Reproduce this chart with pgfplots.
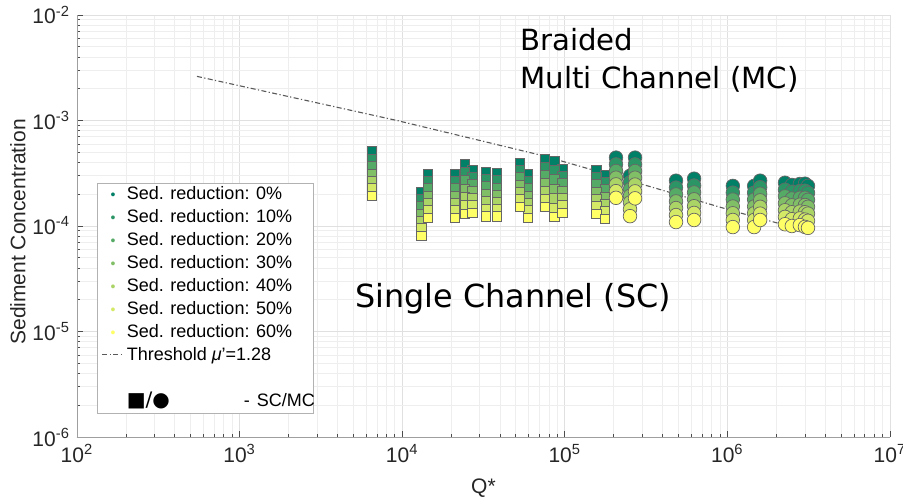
\documentclass[border=0pt]{standalone}
\usepackage{fontspec}
\setmainfont{Liberation Sans}
\newfontfamily\djv{DejaVu Sans}
\usepackage{pgfplots}
\usepackage{pgfplotstable}
\pgfplotsset{compat=1.18}

% MATLAB summer colormap, 7 levels
\definecolor{c0}{rgb}{0.000,0.500,0.400}
\definecolor{c1}{rgb}{0.167,0.583,0.400}
\definecolor{c2}{rgb}{0.333,0.667,0.400}
\definecolor{c3}{rgb}{0.500,0.750,0.400}
\definecolor{c4}{rgb}{0.667,0.833,0.400}
\definecolor{c5}{rgb}{0.833,0.917,0.400}
\definecolor{c6}{rgb}{1.000,1.000,0.400}

% single channel (squares)
\pgfplotstableread{
Q       r0      r10     r20     r30     r40     r50     r60
6520    5.07e-4 4.32e-4 3.67e-4 3.13e-4 2.67e-4 2.27e-4 1.93e-4
13060   2.11e-4 1.80e-4 1.53e-4 1.30e-4 1.11e-4 9.44e-5 8.04e-5
14420   3.13e-4 2.67e-4 2.27e-4 1.93e-4 1.65e-4 1.40e-4 1.19e-4
21100   3.13e-4 2.67e-4 2.27e-4 1.93e-4 1.65e-4 1.40e-4 1.19e-4
24300   3.89e-4 3.24e-4 2.70e-4 2.25e-4 1.88e-4 1.56e-4 1.30e-4
26900   3.41e-4 2.92e-4 2.49e-4 2.13e-4 1.82e-4 1.56e-4 1.33e-4
32700   3.27e-4 2.78e-4 2.37e-4 2.02e-4 1.72e-4 1.46e-4 1.24e-4
38300   3.16e-4 2.70e-4 2.30e-4 1.96e-4 1.67e-4 1.43e-4 1.24e-4
53000   3.98e-4 3.39e-4 2.89e-4 2.46e-4 2.09e-4 1.78e-4 1.52e-4
59400   3.13e-4 2.67e-4 2.27e-4 1.93e-4 1.65e-4 1.40e-4 1.19e-4
75500   4.26e-4 3.58e-4 3.02e-4 2.54e-4 2.14e-4 1.80e-4 1.52e-4
85900   4.16e-4 3.39e-4 2.76e-4 2.25e-4 1.83e-4 1.49e-4 1.22e-4
96200   3.49e-4 2.97e-4 2.53e-4 2.15e-4 1.84e-4 1.56e-4 1.33e-4
155700  3.41e-4 2.91e-4 2.48e-4 2.11e-4 1.79e-4 1.53e-4 1.30e-4
176500  3.06e-4 2.61e-4 2.22e-4 1.89e-4 1.61e-4 1.37e-4 1.17e-4
}\scdata

% multi channel (circles)
\pgfplotstableread{
Q       r0      r10     r20     r30     r40     r50     r60
206500  4.45e-4 3.84e-4 3.32e-4 2.87e-4 2.48e-4 2.14e-4 1.85e-4
251800  2.99e-4 2.59e-4 2.23e-4 1.93e-4 1.67e-4 1.44e-4 1.24e-4
270400  4.45e-4 3.84e-4 3.32e-4 2.87e-4 2.47e-4 2.13e-4 1.83e-4
483000  2.69e-4 2.31e-4 1.99e-4 1.71e-4 1.48e-4 1.27e-4 1.09e-4
624000  2.81e-4 2.42e-4 2.08e-4 1.79e-4 1.54e-4 1.33e-4 1.14e-4
1080000 2.40e-4 2.07e-4 1.78e-4 1.53e-4 1.32e-4 1.14e-4 9.77e-5
1460000 2.40e-4 2.07e-4 1.78e-4 1.53e-4 1.32e-4 1.14e-4 9.77e-5
1590000 2.69e-4 2.33e-4 2.02e-4 1.75e-4 1.52e-4 1.31e-4 1.14e-4
2260000 2.57e-4 2.21e-4 1.91e-4 1.64e-4 1.41e-4 1.22e-4 1.04e-4
2490000 2.45e-4 2.11e-4 1.82e-4 1.57e-4 1.35e-4 1.16e-4 1.00e-4
2790000 2.50e-4 2.15e-4 1.85e-4 1.59e-4 1.37e-4 1.18e-4 1.02e-4
3000000 2.52e-4 2.16e-4 1.85e-4 1.58e-4 1.35e-4 1.15e-4 9.80e-5
3130000 2.40e-4 2.06e-4 1.77e-4 1.52e-4 1.31e-4 1.12e-4 9.60e-5
}\mcdata

\pgfplotsset{
  scsq/.style={only marks, mark=square*, mark size=2.4pt,
    mark options={fill=#1, draw=black!60, line width=0.35pt}},
  mccirc/.style={only marks, mark=*, mark size=3.4pt,
    mark options={fill=#1, draw=black!60, line width=0.35pt}},
}
% legend samples (text only)
\newcommand{\lgdot}[1]{\textcolor{#1}{\fontsize{7}{7}\selectfont •}}
\newcommand{\lgdash}{\textcolor{black!65}{\rule[2.6pt]{2.5pt}{0.5pt}\hspace{1.2pt}%
  \rule[2.6pt]{0.6pt}{0.5pt}\hspace{1.2pt}\rule[2.6pt]{2.5pt}{0.5pt}\hspace{1.2pt}%
  \rule[2.6pt]{0.6pt}{0.5pt}\hspace{0.9pt}}}

\begin{document}
\begin{tikzpicture}
\begin{axis}[
  scale only axis, width=406.5pt, height=211pt,
  xmode=log, ymode=log,
  xmin=1e2, xmax=1e7, ymin=1e-6, ymax=1e-2,
  axis lines*=left, axis line style={-, draw=gray!75},
  tick align=inside, tick pos=left,
  major tick length=3pt, minor tick length=1.6pt,
  tick style={gray!60!black, line width=0.4pt},
  grid=both, major grid style={gray!24}, minor grid style={gray!13},
  log number format basis/.code 2 args={10\textsuperscript{\pgfmathparse{int(#2)}\pgfmathresult}},
  ticklabel style={font=\fontsize{10.5}{12}\selectfont, text=black!85},
  xlabel={Q*}, ylabel={Sediment Concentration},
  label style={font=\fontsize{10.5}{12}\selectfont, text=black!85},
  xlabel style={at={(axis description cs:0.5,-0.121)}, anchor=center},
  ylabel style={at={(axis description cs:-0.0726,0.486)}, anchor=center},
]
\coordinate (bbsw) at (rel axis cs:-0.0947,-0.1517);
\coordinate (bbne) at (rel axis cs:1.016,1.0355);

\addplot[scsq=c0] table[x=Q, y=r0] {\scdata};
\addplot[mccirc=c0] table[x=Q, y=r0] {\mcdata};
\addplot[scsq=c1] table[x=Q, y=r10] {\scdata};
\addplot[mccirc=c1] table[x=Q, y=r10] {\mcdata};
\addplot[scsq=c2] table[x=Q, y=r20] {\scdata};
\addplot[mccirc=c2] table[x=Q, y=r20] {\mcdata};
\addplot[scsq=c3] table[x=Q, y=r30] {\scdata};
\addplot[mccirc=c3] table[x=Q, y=r30] {\mcdata};
\addplot[scsq=c4] table[x=Q, y=r40] {\scdata};
\addplot[mccirc=c4] table[x=Q, y=r40] {\mcdata};
\addplot[scsq=c5] table[x=Q, y=r50] {\scdata};
\addplot[mccirc=c5] table[x=Q, y=r50] {\mcdata};
\addplot[scsq=c6] table[x=Q, y=r60] {\scdata};
\addplot[mccirc=c6] table[x=Q, y=r60] {\mcdata};

% threshold mu' = 1.28
\addplot[black!65, line width=0.55pt, dash pattern=on 2.5pt off 1.2pt on 0.6pt off 1.2pt]
  coordinates {(547,2.62e-3) (9290,1.0e-3) (73400,4.64e-4) (218000,2.87e-4)
               (1080000,1.39e-4) (3220000,8.8e-5)};

\node[anchor=base west, inner sep=0pt, font=\djv\fontsize{14.6}{16}\selectfont]
  at (axis cs:53030,4.64e-3) {Braided};
\node[anchor=base west, inner sep=0pt, font=\djv\fontsize{14.6}{16}\selectfont]
  at (axis cs:53030,2.03e-3) {Multi Channel (MC)};
\node[anchor=base west, inner sep=0pt, font=\djv\fontsize{15.9}{18}\selectfont]
  at (axis cs:5125,1.69e-5) {Single Channel (SC)};

% legend
\node[anchor=north west, draw=gray!60, fill=white, inner xsep=2.5pt, inner ysep=0pt,
  font=\fontsize{9}{11.5}\selectfont] at (axis description cs:0.0246,0.602) {%
  \begin{tabular}{@{}c@{\hspace{1.5pt}}l@{}}
  \lgdot{c0} & Sed. reduction: 0\% \\
  \lgdot{c1} & Sed. reduction: 10\% \\
  \lgdot{c2} & Sed. reduction: 20\% \\
  \lgdot{c3} & Sed. reduction: 30\% \\
  \lgdot{c4} & Sed. reduction: 40\% \\
  \lgdot{c5} & Sed. reduction: 50\% \\
  \lgdot{c6} & Sed. reduction: 60\% \\
  \lgdash & Threshold \textit{μ}'=1.28 \\
  & \\
  & \makebox[91pt][l]{{\djv\fontsize{10}{10}\selectfont ■/●}\hspace{37pt}-\hspace{3.5pt}SC/MC}
  \end{tabular}};
\end{axis}
\pgfresetboundingbox
\path[use as bounding box] (bbsw) rectangle (bbne);
\end{tikzpicture}
\end{document}
